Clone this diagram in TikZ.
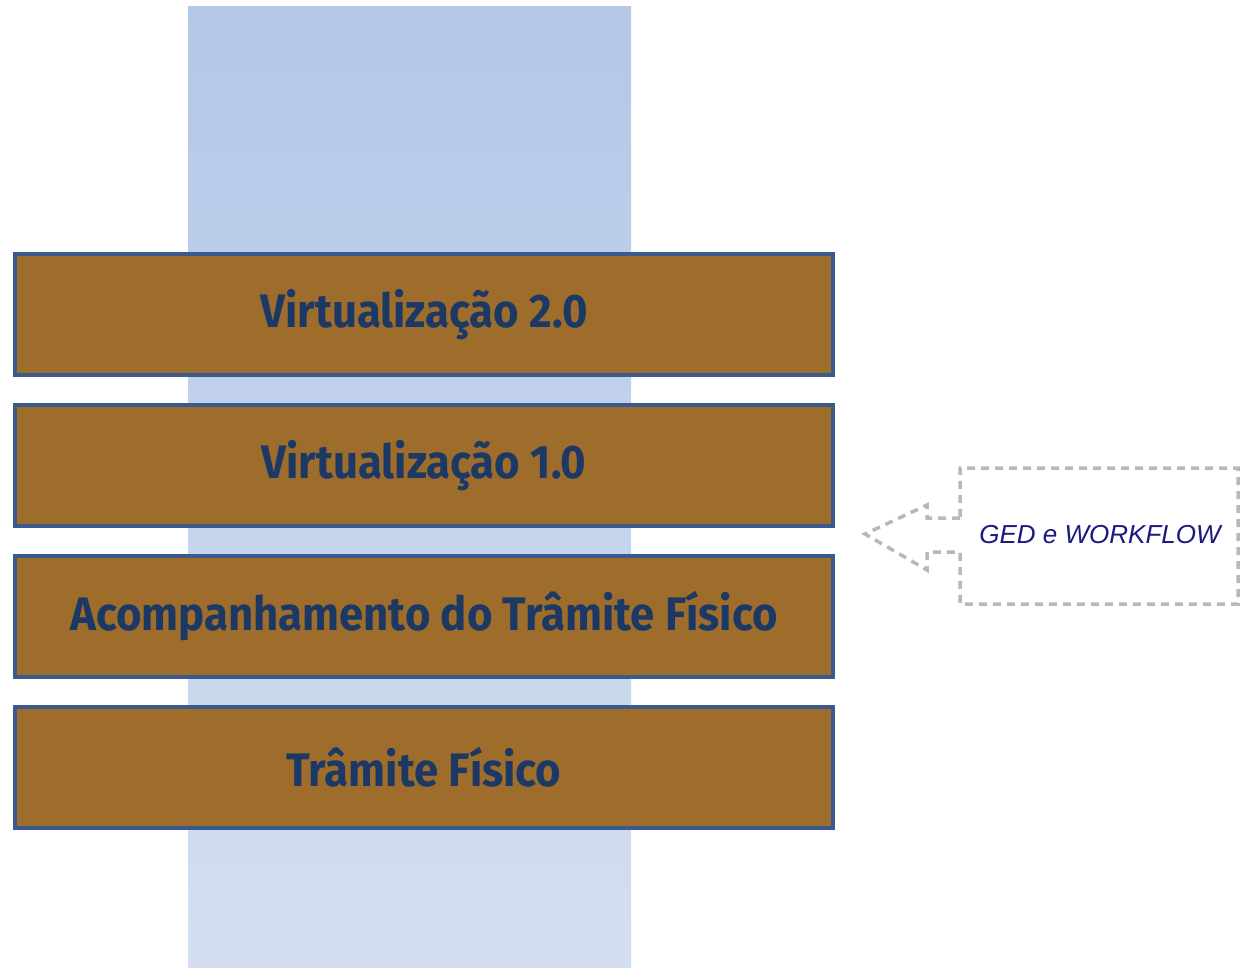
\documentclass[tikz,border=0pt]{standalone}
\usepackage{fontspec}
\newfontfamily\layerfont{Fira Sans}
\newfontfamily\calloutfont{Liberation Sans}
\definecolor{colTop}{HTML}{B4C7E7}
\definecolor{colBot}{HTML}{D3DFF1}
\definecolor{layerFill}{HTML}{9E6D2C}
\definecolor{layerEdge}{HTML}{3A5A8C}
\definecolor{layerText}{HTML}{1C3865}
\definecolor{calloutGray}{HTML}{B8B8B8}
\definecolor{calloutText}{HTML}{1A1A80}
\tikzset{
  layer/.style={draw=layerEdge, line width=3.5pt, fill=layerFill,
    minimum width=818pt, minimum height=121pt, inner sep=0pt,
    text=layerText, font=\layerfont\bfseries\fontsize{47}{50}\selectfont},
  callout/.style={draw=calloutGray, line width=3.5pt, dash pattern=on 8pt off 6pt},
  callouttext/.style={text=calloutText, font=\calloutfont\itshape\fontsize{26}{28}\selectfont}
}
\newcommand{\narrow}[1]{\scalebox{0.93}[1]{#1}}
\begin{document}
\begin{tikzpicture}[x=1pt,y=-1pt]
\useasboundingbox (0,0) rectangle (1241,967);
\fill[white] (0,0) rectangle (1241,967);
\shade[top color=colTop, bottom color=colBot] (188,6) rectangle (631,967);
\node[layer] (v2) at (424,314.5) {\narrow{Virtualização 2.0}};
\node[layer] (v1) at (424,465.5) {\narrow{Virtualização 1.0}};
\node[layer] (acomp) at (424,616.5) {\narrow{Acompanhamento do Trâmite Físico}};
\node[layer] (tram) at (424,767.5) {\narrow{Trâmite Físico}};
\draw[callout] (960,518) -- (927,518) -- (927,505) -- (865,534) -- (927,570) -- (927,552) -- (960,552)
  -- (960,604) -- (1238,604) -- (1238,468) -- (960,468) -- cycle;
\node[callouttext] (ged) at (1100,535) {GED e WORKFLOW};
\end{tikzpicture}
\end{document}
